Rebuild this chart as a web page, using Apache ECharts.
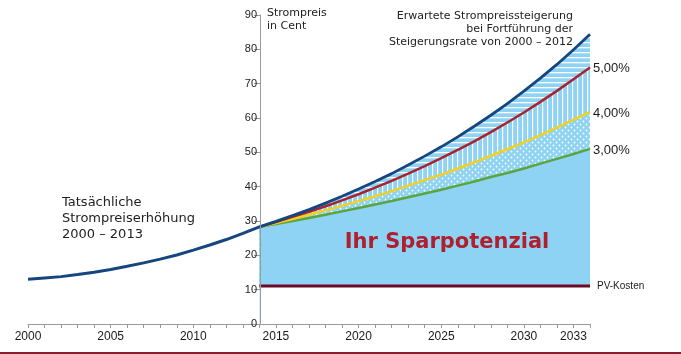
<!DOCTYPE html>
<html><head><meta charset="utf-8">
<script src="https://cdn.jsdelivr.net/npm/echarts@6/dist/echarts.min.js"></script>
<style>html,body{margin:0;padding:0;background:#fff}#c{width:681px;height:354px}</style>
</head><body><div id="c"></div>
<script>
// Historical prices 2000-2014 (Cent)
const histYears = [2000,2001,2002,2003,2004,2005,2006,2007,2008,2009,2010,2011,2012,2013,2014];
const histValues = [13.0,13.4,13.8,14.4,15.1,15.9,16.8,17.8,18.9,20.1,21.5,23.0,24.6,26.4,28.3];
// Projection years
const projYears = [2014,2015,2016,2017,2018,2019,2020,2021,2022,2023,2024,2025,2026,2027,2028,2029,2030,2031,2032,2033,2034];
const rate6 = [28.3,29.9,31.6,33.3,35.2,37.2,39.3,41.5,43.8,46.3,48.9,51.6,54.5,57.6,60.8,64.2,67.8,71.6,75.6,79.9,84.4];
const rate5 = [28.3,29.7,31.2,32.7,34.3,36.0,37.8,39.7,41.7,43.8,46.0,48.3,50.7,53.2,55.9,58.7,61.6,64.7,67.9,71.3,74.7];
const rate4 = [28.3,29.4,30.6,31.8,33.1,34.4,35.8,37.2,38.7,40.3,41.9,43.5,45.3,47.1,49.0,50.9,52.9,55.0,57.2,59.5,61.8];
const rate3 = [28.3,29.1,30.0,30.9,31.8,32.8,33.8,34.8,35.8,36.9,38.0,39.1,40.3,41.5,42.8,44.0,45.3,46.7,48.1,49.5,51.0];
const pvCost = [11.1,11.1,11.1,11.1,11.1,11.1,11.1,11.1,11.1,11.1,11.1,11.1,11.1,11.1,11.1,11.1,11.1,11.1,11.1,11.1,11.1];
const xLabels = [2000,2005,2010,2015,2020,2025,2030,2033];
const yTicks = [0,10,20,30,40,50,60,70,80,90];

const BLUE_FILL = '#8ed3f4';
function pattern(kind){
  const c = document.createElement('canvas');
  const s = kind === 'dots' ? 6 : 5;
  c.width = s; c.height = s;
  const g = c.getContext('2d');
  g.fillStyle = BLUE_FILL; g.fillRect(0,0,s,s);
  g.fillStyle = '#ffffff';
  if (kind === 'dots') {
    g.beginPath(); g.arc(1.5,1.5,0.9,0,Math.PI*2); g.fill();
    g.beginPath(); g.arc(4.5,4.5,0.9,0,Math.PI*2); g.fill();
  } else if (kind === 'v') {
    g.fillRect(2,0,1.2,s);
  } else {
    g.fillRect(0,2,s,1.3);
  }
  return {image: c, repeat: 'repeat'};
}
const pair = (xs, ys) => xs.map((x,i)=>[x, ys[i]]);

function area(ys, color, z){
  return {type:'line', data:pair(projYears, ys), symbol:'none', silent:true,
    lineStyle:{width:0, opacity:0}, areaStyle:{color:color, opacity:1, origin:'start'}, z:z};
}
const chart = echarts.init(document.getElementById('c'), null, {renderer:'canvas'});
chart.setOption({
  backgroundColor:'#fff',
  animation:false,
  grid:{left:28, right:91, top:15, bottom:30, containLabel:false},
  xAxis:{type:'value', min:2000, max:2034, interval:1, z:10,
    axisLine:{lineStyle:{color:'#9a9a9a', width:1}},
    axisTick:{length:4, lineStyle:{color:'#9a9a9a'}},
    splitLine:{show:false},
    axisLabel:{fontFamily:'Liberation Sans, Arial, sans-serif', fontSize:12, color:'#1a1a1a', margin:7,
      formatter:v=> xLabels.includes(v) ? String(v) : ''}},
  yAxis:{type:'value', min:0, max:90, interval:10, position:'left', offset:-232, z:10,
    axisLine:{show:true, lineStyle:{color:'#9a9a9a', width:1}},
    axisTick:{show:true, length:6, lineStyle:{color:'#9a9a9a'}},
    splitLine:{show:false},
    axisLabel:{fontFamily:'Liberation Sans, Arial, sans-serif', fontSize:11, color:'#1a1a1a', margin:3,
      formatter:v=> yTicks.includes(v) ? String(v) : ''}},
  series:[
    area(rate6, pattern('h'), 1),
    area(rate5, pattern('v'), 1.1),
    area(rate4, pattern('dots'), 1.2),
    area(rate3, BLUE_FILL, 1.3),
    area(pvCost, '#ffffff', 1.4),
    {type:'line', name:'PV', data:pair(projYears, pvCost), symbol:'none', lineStyle:{color:'#6d0b26', width:3}, z:5},
    {type:'line', name:'3%', data:pair(projYears, rate3), symbol:'none', lineStyle:{color:'#5aa53c', width:2.5}, z:6},
    {type:'line', name:'4%', data:pair(projYears, rate4), symbol:'none', lineStyle:{color:'#f4d11e', width:2.5}, z:6},
    {type:'line', name:'5%', data:pair(projYears, rate5), symbol:'none', lineStyle:{color:'#a8232f', width:2.5}, z:7},
    {type:'line', name:'6%', data:pair(projYears, rate6), symbol:'none', lineStyle:{color:'#15467f', width:2.8}, z:8},
    {type:'line', name:'hist', data:pair(histYears, histValues), symbol:'none', lineStyle:{color:'#15467f', width:3}, z:8}
  ],
  graphic:[
    {type:'text', left:267, top:7, z:20, style:{text:'Strompreis\nin Cent', font:'11px "DejaVu Sans", sans-serif', lineHeight:13, fill:'#222'}},
    {type:'text', x:573, y:10, z:20, style:{text:'Erwartete Strompreissteigerung\nbei Fortführung der\nSteigerungsrate von 2000 – 2012', align:'right', font:'11px "DejaVu Sans", sans-serif', lineHeight:13, fill:'#222'}},
    {type:'text', x:593, y:68, z:20, style:{text:'5,00%', verticalAlign:'middle', font:'13px "Liberation Sans", Arial, sans-serif', fill:'#1a1a1a'}},
    {type:'text', x:593, y:113, z:20, style:{text:'4,00%', verticalAlign:'middle', font:'13px "Liberation Sans", Arial, sans-serif', fill:'#1a1a1a'}},
    {type:'text', x:593, y:150, z:20, style:{text:'3,00%', verticalAlign:'middle', font:'13px "Liberation Sans", Arial, sans-serif', fill:'#1a1a1a'}},
    {type:'text', x:597, y:286, z:20, style:{text:'PV-Kosten', verticalAlign:'middle', font:'10px "Liberation Sans", Arial, sans-serif', fill:'#1a1a1a'}},
    {type:'text', x:62, y:195, z:20, style:{text:'Tatsächliche\nStrompreiserhöhung\n2000 – 2013', font:'13px "DejaVu Sans", sans-serif', lineHeight:16, fill:'#222'}},
    {type:'text', x:447, y:243, z:20, style:{text:'Ihr Sparpotenzial', align:'center', verticalAlign:'middle', font:'bold 21px "DejaVu Sans", sans-serif', fill:'#b01f2e'}},
    {type:'line', z:20, shape:{x1:0, y1:353, x2:681, y2:353}, style:{stroke:'#8c1c2c', lineWidth:2}}
  ]
});
</script></body></html>
